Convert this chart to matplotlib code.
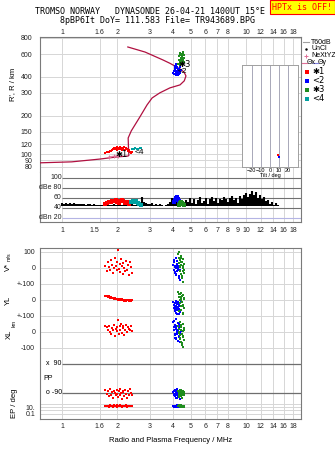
import numpy as np
import matplotlib
matplotlib.use('Agg')
import matplotlib.pyplot as plt
from matplotlib.ticker import FixedLocator, FixedFormatter, NullLocator

plt.rcParams['font.family'] = ['Liberation Sans', 'DejaVu Sans']

# ---- data ----
top_ticks = [1, 1.6, 2, 3, 4, 5, 6, 7, 8, 10, 12, 14, 16, 18]
mid_ticks = [1, 1.5, 2, 3, 4, 5, 6, 7, 8, 9, 10, 12, 14, 16, 18]
height_ticks = [80, 90, 100, 120, 150, 200, 300, 400, 600, 800]

# real-height profile (MHz, km)
prof_f = [0.76, 1.13, 1.61, 1.99, 2.28, 2.31, 2.30, 2.29, 2.38, 2.65, 2.90, 3.09, 3.40,
          3.86, 4.38, 4.62, 4.72, 4.60, 4.38, 4.16, 3.86, 3.54, 2.83, 2.28]
prof_r = [86, 87.5, 92, 95.6, 97, 98, 110, 134, 152, 195, 242, 274, 300,
          328, 346, 372, 406, 436, 460, 480, 509, 540, 622, 681]

nxyz_f = [1.80, 1.92, 2.02]
nxyz_r = [96, 97, 98]

# echo set *1 (red)
red_f = [1.72, 1.75, 1.78, 1.80, 1.83, 1.85, 1.87, 1.90, 1.92, 1.94, 1.96, 1.98, 2.00, 2.02, 2.04,
         2.06, 2.08, 2.10, 2.12, 2.14, 2.16, 2.18, 2.20, 2.22, 2.25, 2.28, 2.31, 2.34, 2.37, 2.40]
red_r = [103, 104, 105, 104, 106, 107, 109, 111, 113, 110, 112, 114, 108, 111, 113,
         115, 110, 112, 109, 113, 111, 114, 108, 112, 110, 107, 109, 105, 103, 104]
red_v = [10, -20, 35, 5, -10, 50, 20, -30, 0, 65, 15, -15, 40, 112, -5,
         25, -25, 55, 10, -40, 30, 0, -20, 45, -10, 20, -45, 35, 5, -30]
red_yl = [22, 25, 18, 28, 15, 20, 12, 10, 8, 14, 5, 9, 6, 3, 7,
          2, 5, 0, 4, -2, 3, -4, 1, -6, 2, -3, -8, 0, -5, -2]
red_xl = [35, 30, 15, 40, 0, -10, 25, 10, 45, -25, 20, 5, 30, 75, -15,
          40, 10, 50, -5, 25, 35, -20, 15, 45, 0, 30, 20, 10, 35, 5]
red_pp = [-70, -95, -80, -110, -65, -100, -85, -120, -75, -90, -105, -70, -95, -115, -80,
          -65, -100, -90, -125, -75, -85, -110, -70, -95, -120, -80, -105, -65, -90, -100]
red_ep = [20, 15, 25, 12, 30, 18, 22, 14, 35, 16, 20, 28, 12, 18, 24,
          15, 30, 20, 14, 26, 18, 22, 16, 32, 12, 20, 25, 18, 15, 22]

# echo set <2 (blue)
blue_f = [4.02, 4.05, 4.08, 4.10, 4.12, 4.14, 4.16, 4.18, 4.20, 4.22, 4.24, 4.26, 4.28, 4.30, 4.32,
          4.34, 4.36, 4.38, 4.40, 4.44, 4.06, 4.11, 4.15, 4.19, 4.23, 4.27, 4.31, 4.35, 4.13, 4.25]
blue_r = [430, 445, 420, 470, 455, 415, 490, 440, 465, 425, 480, 450, 435, 505, 460,
          420, 445, 475, 430, 450, 440, 460, 425, 500, 470, 415, 455, 440, 485, 430]
blue_v = [20, -10, 40, 5, -30, 60, 0, -45, 25, -20, 45, 10, -5, 100, -60,
          30, -15, 15, -75, 35, 50, -25, 5, -40, 20, -10, 65, -50, 10, 0]
blue_yl = [-10, -30, -50, -20, -70, -40, -5, -60, -85, -25, -45, -15, -65, -35, -90,
           -55, -20, -75, -40, -10, -30, -60, -50, -80, -15, -45, -70, -25, -35, -55]
blue_xl = [60, 30, 10, -20, 45, -40, 20, 80, -10, 0, 35, -55, 15, 50, -30,
           25, -5, 40, -60, 5, 70, -15, 30, -45, 10, 55, -25, 20, -35, 0]
blue_pp = [-85, -100, -75, -110, -95, -70, -120, -90, -80, -105, -65, -115, -95, -85, -100,
           -75, -130, -90, -110, -80, -95, -70, -105, -85, -120, -90, -100, -75, -110, -95]
blue_ep = [15, 20, 12, 25, 18, 14, 22, 16, 30, 12, 20, 18, 25, 14, 16,
           22, 12, 28, 18, 15, 20, 24, 14, 18, 16, 22, 12, 26, 18, 20]

# echo set *3 (green)
green_f = [4.25, 4.30, 4.33, 4.36, 4.38, 4.40, 4.42, 4.44, 4.46, 4.48, 4.50, 4.52,
           4.54, 4.56, 4.58, 4.60, 4.62, 4.35, 4.41, 4.47, 4.53, 4.57, 4.45, 4.39]
green_r = [500, 540, 580, 520, 610, 495, 560, 600, 530, 505, 575, 620,
           545, 515, 590, 560, 525, 505, 550, 570, 535, 600, 510, 585]
green_v = [90, 60, 30, -20, 50, 10, -40, 75, 20, -60, 40, 0,
           -85, 55, -10, 25, -30, 100, 35, -50, 15, -20, 65, 5]
green_yl = [50, 35, 20, 0, -20, 40, -40, 10, -60, 25, -10, -80,
            30, -30, 5, -50, 15, -70, 45, -15, -35, -90, 0, 20]
green_xl = [40, 20, 0, -20, 60, -40, 10, -60, 30, -80, -10, 50,
            -30, -95, 15, -50, 25, -5, 35, -70, 5, -25, 45, -45]
green_pp = [-75, -90, -105, -80, -95, -70, -110, -85, -100, -90, -120, -80,
            -95, -75, -105, -90, -85, -115, -70, -100, -95, -80, -110, -90]
green_ep = [15, 20, 25, 18, 12, 22, 16, 30, 14, 20, 18, 25,
            12, 16, 22, 20, 14, 28, 18, 15, 24, 16, 20, 18]

# echo set <4 (teal)
teal_f = [2.40, 2.45, 2.50, 2.55, 2.60, 2.65, 2.70]
teal_r = [110, 111, 112, 110, 111, 113, 112]

# noise / echo amplitude strip (dB)
noise_db = [49, 48, 50, 48, 49, 47, 49, 48, 47, 48, 47, 48, 46, 47, 48, 46, 47, 46, 46, 45,
            46, 45, 46, 45, 46, 45, 47, 45, 46, 45, 46, 45, 46, 46, 45, 47, 46, 45, 47, 46,
            61, 52, 50, 48, 47, 50, 46, 48, 45, 47, 46, 44, 45, 47, 52,
            60, 58, 54, 50, 48, 51, 47,
            55, 52, 60, 49, 58, 47, 56, 62, 50, 54, 59, 48, 57, 61, 53, 60, 50, 58, 55, 62,
            57, 52, 60, 64, 55, 59, 50, 63, 58, 66, 70, 62, 68, 74, 65, 71, 60, 66, 57, 62,
            53, 56, 48, 52, 45, 50, 46]
noise_f = np.geomspace(1.0, 14.9, len(noise_db))
dbe_red_f = [1.72, 1.76, 1.80, 1.84, 1.88, 1.92, 1.96, 2.00, 2.04, 2.08, 2.12, 2.16, 2.20, 2.25, 2.30]
dbe_red_db = [48, 50, 52, 51, 54, 53, 55, 52, 50, 54, 56, 53, 49, 51, 48]
dbe_teal_f = [2.38, 2.43, 2.48, 2.53, 2.58, 2.63, 2.68]
dbe_teal_db = [52, 54, 51, 53, 50, 48, 46]
dbe_blue_f = [4.05, 4.10, 4.15, 4.20, 4.25, 4.30, 4.35]
dbe_blue_db = [52, 56, 60, 61, 58, 54, 50]
dbe_green_f = [4.30, 4.36, 4.42, 4.48, 4.54, 4.60]
dbe_green_db = [46, 49, 52, 50, 48, 46]

tilt_x = [8.5, 9.5]
tilt_y = [0.12, 0.10]

RED, BLUE, GREEN, TEAL = '#ff0000', '#0000ff', '#1e8c1e', '#00a0a0'
CRIMSON = '#b01040'
FRAME = '#7a7a7a'
GRID = '#d6d6d6'

W, H = 335, 451


def box(x0, y0, x1, y1):
    return [x0 / W, 1 - y1 / H, (x1 - x0) / W, (y1 - y0) / H]


def px(x, y):
    return x / W, 1 - y / H


def freq_axis(ax, ticks):
    ax.set_xscale('log')
    ax.set_xlim(0.76, 19.9)
    ax.xaxis.set_major_locator(FixedLocator(ticks))
    ax.xaxis.set_major_formatter(FixedFormatter([('%g' % t) for t in ticks]))
    ax.xaxis.set_minor_locator(NullLocator())
    for t in top_ticks:
        ax.axvline(t, color=GRID, lw=0.7, zorder=0)
    for s in ax.spines.values():
        s.set_color(FRAME)
        s.set_linewidth(0.8)
    ax.tick_params(length=0, labelsize=5, labelcolor='#222222')


# lower panel coordinate offsets (one common vertical axis)
V_OFF, YL_OFF, XL_OFF = 400, 200, 0


def pp_u(p):
    return -290.5 + np.asarray(p) * 1.0056


def ep_u(e):
    return -469 + (np.log10(e) - 1) * 21.5


fig = plt.figure(figsize=(W / 100, H / 100), dpi=100)

# ---- top: heights ----
ax = fig.add_axes(box(40, 37, 301, 172))
freq_axis(ax, top_ticks)
ax.set_yscale('log')
ax.set_ylim(73, 814)
ax.yaxis.set_major_locator(FixedLocator(height_ticks))
ax.yaxis.set_major_formatter(FixedFormatter([str(h) for h in height_ticks]))
ax.yaxis.set_minor_locator(NullLocator())
for h in height_ticks:
    ax.axhline(h, color=GRID, lw=0.7, zorder=0)
ax.tick_params(axis='x', top=True, bottom=False, labeltop=True, labelbottom=False, pad=1)
ax.tick_params(axis='y', pad=5.5)
ax.spines['bottom'].set_visible(False)
ax.plot(prof_f, prof_r, color=CRIMSON, lw=0.9, zorder=3)
ax.plot(nxyz_f, nxyz_r, color='#e07098', lw=0.6, marker='+', ms=3, mew=0.7, zorder=3)
ax.plot(red_f, red_r, 's', color=RED, ms=1.8, mew=0, zorder=4)
ax.plot(teal_f, teal_r, 's', color=TEAL, ms=1.9, mew=0, zorder=4)
ax.plot(blue_f, blue_r, 's', color=BLUE, ms=2.0, mew=0, zorder=4)
ax.plot(green_f, green_r, 's', color=GREEN, ms=2.0, mew=0, zorder=4)
ax.text(2.12, 99, '\u27311', fontsize=6, family='DejaVu Sans', ha='center', va='center', zorder=5)
ax.text(2.65, 103, '<4', fontsize=6, ha='center', va='center', zorder=5)
ax.text(4.66, 494, '\u27313', fontsize=6, family='DejaVu Sans', ha='center', va='center', zorder=5)
ax.text(4.49, 436, '<2', fontsize=6, ha='center', va='center', zorder=5)

# ---- amplitude strip ----
axd = fig.add_axes(box(40, 172, 301, 222))
freq_axis(axd, mid_ticks)
axd.set_ylim(12, 111)
axd.set_yticks([])
axd.spines['top'].set_visible(False)
axd.tick_params(axis='x', pad=3.6)
for lev, lab in [(100, '100'), (80, 'dBe 80'), (60, '60'), (40, '40'), (20, 'dBn 20')]:
    col = '#b4b4e4' if lev == 20 else '#707070'
    axd.hlines(lev, 1.0, 19.9, color=col, lw=0.8, zorder=1)
    axd.text(0.083, lev, lab, transform=axd.get_yaxis_transform(), ha='right', va='center',
             fontsize=5, color='#222222')
axd.vlines(noise_f, 44, noise_db, color='black', lw=1.5, zorder=2)
axd.plot(dbe_red_f, dbe_red_db, 's', color=RED, ms=2.5, mew=0, zorder=3)
axd.plot(dbe_teal_f, dbe_teal_db, 's', color=TEAL, ms=2.5, mew=0, zorder=3)
axd.plot(dbe_blue_f, dbe_blue_db, 's', color=BLUE, ms=2.5, mew=0, zorder=3)
axd.plot(dbe_green_f, dbe_green_db, 's', color=GREEN, ms=2.5, mew=0, zorder=3)

# ---- lower: velocities, locations, polarisation ----
axl = fig.add_axes(box(40, 248, 301, 419))
freq_axis(axl, top_ticks)
axl.set_ylim(-544, 525)
yt = [500, 400, 300, 200, 100, 0, -100, ep_u(100), ep_u(10), ep_u(1), ep_u(0.1)]
yl = ['100', '0', '+-100', '0', '+-100', '0', '-100', '', '10.', '', '0.1']
axl.set_yticks(yt)
axl.set_yticklabels(yl)
for u in yt:
    axl.axhline(u, color=GRID, lw=0.7, zorder=0)
axl.tick_params(axis='y', pad=3.5)
axl.tick_params(axis='x', pad=3)
axl.hlines([pp_u(90), pp_u(-90)], 1.0, 19.9, color='#6e6e6e', lw=0.9, zorder=1)
axl.text(0.083, pp_u(90), 'x  90', transform=axl.get_yaxis_transform(), ha='right', va='center', fontsize=5)
axl.text(0.083, pp_u(-90), 'o -90', transform=axl.get_yaxis_transform(), ha='right', va='center', fontsize=5)
axl.text(0.012, pp_u(0), 'PP', transform=axl.get_yaxis_transform(), ha='left', va='center', fontsize=5)
for f, v, y, x, p, e, c in [(red_f, red_v, red_yl, red_xl, red_pp, red_ep, RED),
                            (blue_f, blue_v, blue_yl, blue_xl, blue_pp, blue_ep, BLUE),
                            (green_f, green_v, green_yl, green_xl, green_pp, green_ep, GREEN)]:
    for vals, off in [(v, V_OFF), (y, YL_OFF), (x, XL_OFF)]:
        axl.plot(f, np.asarray(vals) + off, 's', color=c, ms=1.8, mew=0, zorder=3)
    axl.plot(f, pp_u(p), 's', color=c, ms=1.8, mew=0, zorder=3)
    axl.plot(f, ep_u(e), 's', color=c, ms=1.8, mew=0, zorder=3)
axl.set_xlabel('Radio and Plasma Frequency / MHz', fontsize=5.5, labelpad=5)

# ---- tilt inset ----
axt = fig.add_axes(box(242, 65, 298, 167))
axt.set_xlim(-31, 31)
axt.set_ylim(0, 1)
axt.set_xticks([-20, -10, 0, 10, 20])
axt.set_yticks([])
axt.tick_params(length=0, labelsize=4, pad=1)
for t in [-20, -10, 0, 10, 20]:
    axt.axvline(t, color='#a8a8b8', lw=0.7, zorder=0)
for s in axt.spines.values():
    s.set_color('#a0a0a0')
    s.set_linewidth(0.7)
axt.plot(tilt_x[0], tilt_y[0], 's', color=RED, ms=2, mew=0)
axt.plot(tilt_x[1], tilt_y[1], 's', color=BLUE, ms=2, mew=0)
axt.set_xlabel('Tilt / deg', fontsize=4, labelpad=0)

# ---- legend ----
axg = fig.add_axes(box(302, 37, 335, 105))
axg.set_xlim(302, 335)
axg.set_ylim(105, 37)
axg.axis('off')
axg.plot([303, 309], [42, 42], color='#a0a0a0', lw=0.8)
axg.text(311, 42, 'T60dB', fontsize=5, va='center')
axg.plot([306], [49], '.', color='black', ms=1.5)
axg.text(311, 49, 'UnCl', fontsize=5, va='center')
axg.plot([306], [55.5], '+', color='#e07098', ms=3, mew=0.7)
axg.text(311, 55.5, 'NeXtYZ', fontsize=5, va='center')
axg.plot([302, 307], [63, 63], color='#e07098', lw=0.8)
axg.text(307, 63, '\u0398x', fontsize=5, va='center')
axg.plot([313, 318], [63, 63], color='#8080e0', lw=0.8)
axg.text(318, 63, '\u0398y', fontsize=5, va='center')
for yy, c, lab in [(72, RED, '\u27311'), (80.5, BLUE, '<2'), (90, GREEN, '\u27313'), (98.5, TEAL, '<4')]:
    axg.plot([307], [yy], 's', color=c, ms=2.4, mew=0)
    axg.text(312.5, yy, lab, fontsize=6, va='center', family='DejaVu Sans')

# ---- titles and side labels ----
fig.text(*px(150, 12), 'TROMSO NORWAY   DYNASONDE 26-04-21 1400UT 15\u00b0E', family='DejaVu Sans Mono',
         fontsize=6, ha='center', va='center')
fig.text(*px(157, 20.5), '8pBP6It DoY= 111.583 File= TR943689.BPG', family='DejaVu Sans Mono',
         fontsize=6, ha='center', va='center')
fig.text(*px(302.5, 7), 'HPTx is OFF!', family='DejaVu Sans Mono', fontsize=6, color='red',
         ha='center', va='center',
         bbox=dict(facecolor='yellow', edgecolor='red', lw=0.8, boxstyle='square,pad=0.25'))
fig.text(*px(13, 84), "R', R / km", rotation=90, fontsize=5.5, ha='center', va='center')
fig.text(*px(8.5, 267), 'V*', rotation=90, fontsize=5.5, ha='center', va='center')
fig.text(*px(9, 257), 'm/s', rotation=90, fontsize=3.8, ha='center', va='center')
fig.text(*px(8.5, 300), 'YL', rotation=90, fontsize=5.5, ha='center', va='center')
fig.text(*px(14.5, 323), 'km', rotation=90, fontsize=3.8, ha='center', va='center')
fig.text(*px(9, 334), 'XL', rotation=90, fontsize=5.5, ha='center', va='center')
fig.text(*px(15, 403), 'EP / deg', rotation=90, fontsize=5.5, ha='center', va='center')

fig.savefig('out.png', dpi=100)
